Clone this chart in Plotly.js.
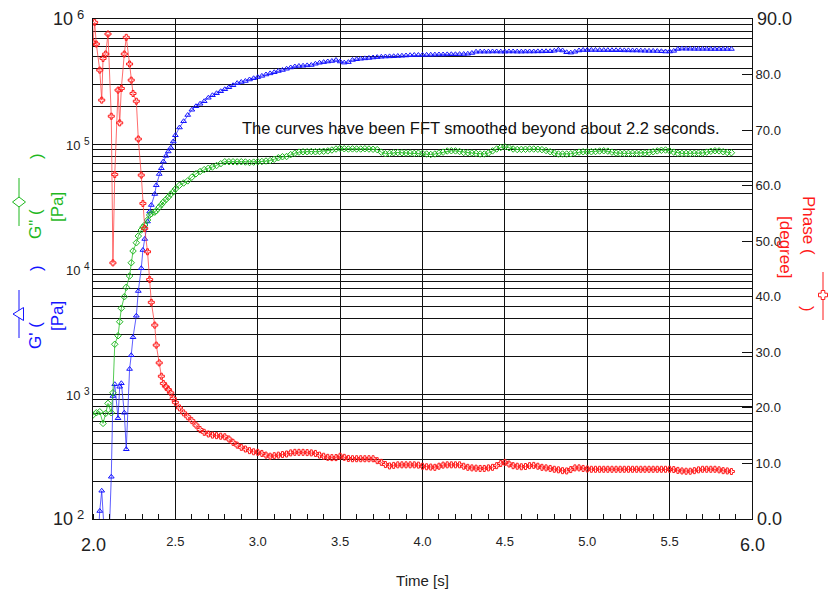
<!DOCTYPE html>
<html>
<head>
<meta charset="utf-8">
<script src="https://cdn.plot.ly/plotly-3.0.1.min.js"></script>
<style>
  html, body { margin: 0; padding: 0; background: #fff; }
  #chart { width: 830px; height: 593px; }
</style>
</head>
<body>
<div id="chart"></div>
<script>
// Time axis: irregular samples during the gelation onset, then a regular series after 2.5 s
const timeEarly = [2.000, 2.010, 2.020, 2.041, 2.053, 2.061, 2.077, 2.091, 2.111, 2.121,
  2.132, 2.152, 2.162, 2.172, 2.190, 2.202, 2.222, 2.232, 2.243, 2.263,
  2.275, 2.293, 2.303, 2.314, 2.331, 2.344, 2.354, 2.375, 2.384, 2.402,
  2.415, 2.427, 2.443, 2.457, 2.472, 2.487];

const timeLate = [2.500, 2.525, 2.550, 2.575, 2.600, 2.625, 2.650, 2.675, 2.700, 2.725,
  2.750, 2.775, 2.800, 2.825, 2.850, 2.875, 2.900, 2.925, 2.950, 2.975,
  3.000, 3.025, 3.050, 3.075, 3.100, 3.125, 3.150, 3.175, 3.200, 3.225,
  3.250, 3.275, 3.300, 3.325, 3.350, 3.375, 3.400, 3.425, 3.450, 3.475,
  3.500, 3.525, 3.550, 3.575, 3.600, 3.625, 3.650, 3.675, 3.700, 3.725,
  3.750, 3.775, 3.800, 3.825, 3.850, 3.875, 3.900, 3.925, 3.950, 3.975,
  4.000, 4.025, 4.050, 4.075, 4.100, 4.125, 4.150, 4.175, 4.200, 4.225,
  4.250, 4.275, 4.300, 4.325, 4.350, 4.375, 4.400, 4.425, 4.450, 4.475,
  4.500, 4.525, 4.550, 4.575, 4.600, 4.625, 4.650, 4.675, 4.700, 4.725,
  4.750, 4.775, 4.800, 4.825, 4.850, 4.875, 4.900, 4.925, 4.950, 4.975,
  5.000, 5.025, 5.050, 5.075, 5.100, 5.125, 5.150, 5.175, 5.200, 5.225,
  5.250, 5.275, 5.300, 5.325, 5.350, 5.375, 5.400, 5.425, 5.450, 5.475,
  5.500, 5.525, 5.550, 5.575, 5.600, 5.625, 5.650, 5.675, 5.700, 5.725,
  5.750, 5.775, 5.800, 5.825, 5.850, 5.875];

// Storage modulus G' as log10(Pa); null = no sample recorded
const storageLogEarly = [null, null, 1.6, 2.064, 2.226, null, 1.7, 1.6, 2.338, 2.984,
  3.078, 2.806, 3.058, 3.086, 2.850, 2.558, 3.200, 3.310, 3.454, 3.626,
  3.824, 4.006, 4.152, 4.240, 4.380, 4.460, 4.512, 4.600, 4.670, 4.760,
  4.806, 4.860, 4.905, 4.940, 4.970, 5.020];
const storageLogLate = [5.070, 5.132, 5.182, 5.232, 5.274, 5.302, 5.322, 5.342, 5.370, 5.390,
  5.406, 5.422, 5.438, 5.454, 5.470, 5.487, 5.496, 5.504, 5.516, 5.526,
  5.535, 5.545, 5.556, 5.565, 5.574, 5.584, 5.592, 5.602, 5.612, 5.620,
  5.624, 5.626, 5.629, 5.632, 5.642, 5.650, 5.655, 5.660, 5.664, 5.672,
  5.660, 5.651, 5.655, 5.672, 5.678, 5.682, 5.685, 5.688, 5.692, 5.695,
  5.698, 5.700, 5.701, 5.702, 5.704, 5.706, 5.708, 5.710, 5.712, 5.712,
  5.713, 5.713, 5.714, 5.715, 5.716, 5.716, 5.717, 5.718, 5.718, 5.719,
  5.720, 5.722, 5.728, 5.738, 5.739, 5.739, 5.739, 5.740, 5.740, 5.739,
  5.739, 5.740, 5.740, 5.739, 5.739, 5.740, 5.740, 5.740, 5.741, 5.741,
  5.742, 5.742, 5.746, 5.754, 5.748, 5.734, 5.731, 5.738, 5.748, 5.752,
  5.752, 5.752, 5.752, 5.751, 5.751, 5.751, 5.750, 5.750, 5.750, 5.749,
  5.749, 5.748, 5.748, 5.747, 5.746, 5.745, 5.745, 5.744, 5.742, 5.740,
  5.740, 5.745, 5.760, 5.763, 5.762, 5.762, 5.761, 5.761, 5.761, 5.761,
  5.760, 5.760, 5.760, 5.760, 5.760, 5.760];

// Loss modulus G" as log10(Pa)
const lossLogEarly = [2.832, null, 2.850, 2.858, null, 2.765, 2.845, 2.925, 2.850, 3.010,
  3.398, 3.466, 3.578, 3.686, 3.778, 3.854, 3.944, 4.050, 4.144, 4.210,
  4.264, 4.312, 4.335, 4.352, 4.392, 4.432, 4.442, 4.455, 4.466, 4.495,
  4.515, 4.535, 4.556, 4.575, 4.598, 4.618];
const lossLogLate = [4.640, 4.670, 4.688, 4.705, 4.735, 4.762, 4.780, 4.795, 4.806, 4.816,
  4.828, 4.842, 4.858, 4.858, 4.858, 4.857, 4.858, 4.856, 4.852, 4.855,
  4.858, 4.860, 4.864, 4.867, 4.878, 4.890, 4.898, 4.900, 4.915, 4.926,
  4.935, 4.938, 4.938, 4.940, 4.938, 4.940, 4.942, 4.945, 4.952, 4.960,
  4.965, 4.962, 4.960, 4.961, 4.960, 4.960, 4.962, 4.960, 4.958, 4.955,
  4.935, 4.922, 4.925, 4.930, 4.932, 4.930, 4.928, 4.928, 4.925, 4.927,
  4.925, 4.920, 4.916, 4.920, 4.928, 4.935, 4.944, 4.946, 4.945, 4.940,
  4.932, 4.930, 4.928, 4.925, 4.920, 4.920, 4.928, 4.945, 4.960, 4.972,
  4.978, 4.970, 4.960, 4.956, 4.957, 4.958, 4.960, 4.960, 4.958, 4.955,
  4.948, 4.938, 4.928, 4.920, 4.920, 4.920, 4.922, 4.928, 4.935, 4.938,
  4.938, 4.938, 4.940, 4.944, 4.946, 4.943, 4.935, 4.928, 4.925, 4.925,
  4.925, 4.926, 4.925, 4.926, 4.928, 4.932, 4.938, 4.945, 4.950, 4.952,
  4.945, 4.935, 4.926, 4.925, 4.925, 4.925, 4.926, 4.927, 4.928, 4.935,
  4.942, 4.946, 4.945, 4.938, 4.932, 4.930];

// Phase angle in degrees
const phaseEarly = [85.8, 89.4, 85.5, 80.8, 75.4, 82.9, 83.7, 87.3, 72.5, 46.1,
  62.0, 77.2, 71.3, 77.5, 83.7, 86.7, 81.9, 79.0, 76.6, 75.2,
  68.4, 61.9, 56.8, 52.3, 48.1, 43.1, 39.0, 34.9, 31.3, 28.1,
  25.7, 24.4, 23.8, 23.3, 22.7, 21.7];
const phaseLate = [21.0, 20.0, 19.1, 18.4, 17.7, 16.9, 16.1, 15.6, 15.3, 15.1,
  15.0, 14.9, 14.8, 14.4, 13.8, 13.3, 12.9, 12.6, 12.3, 12.1,
  12.0, 11.8, 11.5, 11.3, 11.4, 11.5, 11.6, 11.7, 11.9, 12.0,
  12.0, 12.0, 11.95, 11.9, 11.8, 11.5, 11.3, 11.1, 11.05, 11.05,
  11.3, 11.1, 10.9, 10.85, 10.85, 10.85, 10.85, 10.85, 10.85, 10.5,
  10.2, 9.8, 9.55, 9.65, 9.75, 9.75, 9.75, 9.75, 9.75, 9.7,
  9.5, 9.4, 9.35, 9.3, 9.5, 9.7, 9.75, 9.75, 9.75, 9.75,
  9.5, 9.3, 9.2, 9.15, 9.1, 9.1, 9.2, 9.3, 9.6, 10.0,
  10.2, 9.9, 9.6, 9.5, 9.4, 9.45, 9.6, 9.65, 9.5, 9.3,
  9.2, 9.1, 8.95, 8.85, 8.7, 8.65, 8.9, 9.2, 9.2, 9.1,
  9.0, 8.95, 8.95, 8.95, 8.95, 8.95, 8.95, 8.95, 8.95, 8.95,
  8.95, 8.95, 8.95, 8.95, 8.95, 8.95, 8.95, 8.95, 8.95, 8.95,
  8.95, 8.9, 8.75, 8.65, 8.6, 8.6, 8.7, 8.85, 8.95, 8.95,
  8.95, 8.95, 8.85, 8.7, 8.65, 8.55];

// Axis ticks: inner ticks come from the axes, the end values are drawn larger
const timeTicks = [2.5, 3.0, 3.5, 4.0, 4.5, 5.0, 5.5];
const timeTickLabels = ['2.5', '3.0', '3.5', '4.0', '4.5', '5.0', '5.5'];
const timeEnds = [2.0, 6.0];
const timeEndLabels = ['2.0', '6.0'];
const modulusDecades = [2, 3, 4, 5, 6];            // 10^2 ... 10^6 Pa
const phaseTicks = [0, 10, 20, 30, 40, 50, 60, 70, 80, 90];
const phaseTickLabels = ['', '10.0', '20.0', '30.0', '40.0', '50.0', '60.0', '70.0', '80.0', ''];
const phaseEnds = [0, 90];
const phaseEndLabels = ['0.0', '90.0'];

const time = timeEarly.concat(timeLate);
const toPa = v => (v === null ? null : Math.pow(10, v));
const storage = storageLogEarly.concat(storageLogLate).map(toPa);
const loss = lossLogEarly.concat(lossLogLate).map(toPa);
const phase = phaseEarly.concat(phaseLate);

const FONT = 'Liberation Sans, Arial, Helvetica, sans-serif';
const BLUE = '#1414ff', GREEN = '#1fb81f', RED = '#ff1a1a';
const INK = '#222';

// minor log grid: digits 2..9 of every decade
const minorLog = [];
modulusDecades.slice(0, -1).forEach(d => [2, 3, 4, 5, 6, 7, 8, 9].forEach(k => minorLog.push(k * Math.pow(10, d))));

const traces = [
  {
    x: time, y: storage, yaxis: 'y', mode: 'lines+markers', connectgaps: true,
    line: { color: 'rgba(40,40,255,0.75)', width: 1 },
    marker: { symbol: 'triangle-up-open', size: 5, color: BLUE, line: { width: 1 } },
    showlegend: false, hoverinfo: 'x+y'
  },
  {
    x: time, y: loss, yaxis: 'y', mode: 'lines+markers', connectgaps: true,
    line: { color: 'rgba(40,190,40,0.8)', width: 1 },
    marker: { symbol: 'diamond-open', size: 5, color: GREEN, line: { width: 1 } },
    showlegend: false, hoverinfo: 'x+y'
  },
  {
    x: time, y: phase, yaxis: 'y2', mode: 'lines+markers',
    line: { color: 'rgba(255,60,60,0.75)', width: 1 },
    marker: { symbol: 'cross-open', size: 5, color: RED, line: { width: 1 } },
    showlegend: false, hoverinfo: 'x+y'
  }
];

// pixel -> paper helpers for decorations outside the plot area
const L = 93, R = 752, T = 19, B = 519;
const px = x => (x - L) / (R - L);
const py = y => (B - y) / (B - T);

function rotText(text, x, y, color, angle, size) {
  return {
    xref: 'paper', yref: 'paper', x: px(x), y: py(y), text: text, showarrow: false,
    textangle: angle, xanchor: 'center', yanchor: 'middle',
    font: { family: FONT, size: size || 17, color: color }
  };
}

const annotations = [
  rotText('G" (', 35, 224, GREEN, -90),
  rotText(')', 36, 156, GREEN, -90),
  rotText('[Pa]', 57, 207, GREEN, -90),
  rotText("G' (", 35, 336, BLUE, -90),
  rotText(')', 36, 268, BLUE, -90),
  rotText('[Pa]', 57, 316, BLUE, -90),
  rotText('Phase (', 809, 226, RED, 90),
  rotText(')', 808, 309, RED, 90),
  rotText('[degree]', 785, 247, RED, 90),
  {
    xref: 'paper', yref: 'paper', x: px(240), y: py(128), xanchor: 'left', yanchor: 'middle',
    text: 'The curves have been FFT smoothed beyond about 2.2 seconds.', showarrow: false,
    font: { family: FONT, size: 16.5, color: '#111' }
  }
];

// larger end labels of the time and phase axes, placed on their axis values
timeEnds.forEach((v, i) => annotations.push({
  xref: 'x', yref: 'paper', x: v, y: py(545), xanchor: 'center', yanchor: 'middle',
  text: timeEndLabels[i], showarrow: false, font: { family: FONT, size: 18, color: INK }
}));
phaseEnds.forEach((v, i) => annotations.push({
  xref: 'paper', yref: 'y2', x: px(755), y: v, xanchor: 'left', yanchor: 'middle',
  text: phaseEndLabels[i], showarrow: false, font: { family: FONT, size: 18, color: INK }
}));

// decade labels of the modulus axis: base "10" with a raised exponent
modulusDecades.forEach((d, i) => {
  const big = i === 0 || i === modulusDecades.length - 1;
  const split = big ? 75 : 82;
  annotations.push({
    xref: 'paper', yref: 'y', x: px(split), y: d, xanchor: 'right', yanchor: 'middle',
    yshift: big ? 0 : -1.5, text: '10', showarrow: false,
    font: { family: FONT, size: big ? 18 : 13, color: INK }
  });
  annotations.push({
    xref: 'paper', yref: 'y', x: px(split), y: d, xanchor: 'left', yanchor: 'middle',
    yshift: big ? 5 : 2.5, text: String(d), showarrow: false,
    font: { family: FONT, size: big ? 13 : 10, color: INK }
  });
});

function pathOf(pts) {
  return 'M' + pts.map(p => px(p[0]) + ',' + py(p[1])).join(' L') + ' Z';
}
const crossPts = (cx, cy, a, w) => [
  [cx - w, cy - a], [cx + w, cy - a], [cx + w, cy - w], [cx + a, cy - w], [cx + a, cy + w],
  [cx + w, cy + w], [cx + w, cy + a], [cx - w, cy + a], [cx - w, cy + w], [cx - a, cy + w],
  [cx - a, cy - w], [cx - w, cy - w]
];

const shapes = [
  { type: 'line', xref: 'paper', yref: 'paper', x0: px(19), x1: px(19), y0: py(178), y1: py(226), line: { color: GREEN, width: 1 } },
  { type: 'path', xref: 'paper', yref: 'paper', path: pathOf([[12.5, 202], [19, 197], [25.5, 202], [19, 207]]), line: { color: GREEN, width: 1 }, fillcolor: 'white' },
  { type: 'line', xref: 'paper', yref: 'paper', x0: px(19), x1: px(19), y0: py(290), y1: py(338), line: { color: BLUE, width: 1 } },
  { type: 'path', xref: 'paper', yref: 'paper', path: pathOf([[13, 314], [23.5, 307.5], [23.5, 320.5]]), line: { color: BLUE, width: 1 }, fillcolor: 'white' },
  { type: 'line', xref: 'paper', yref: 'paper', x0: px(823), x1: px(823), y0: py(272), y1: py(320), line: { color: RED, width: 1 } },
  { type: 'path', xref: 'paper', yref: 'paper', path: pathOf(crossPts(823, 295, 4.5, 1.8)), line: { color: RED, width: 1 }, fillcolor: 'white' }
];

const layout = {
  width: 830, height: 593,
  margin: { l: L, r: 830 - R, t: T, b: 593 - B },
  paper_bgcolor: '#fff', plot_bgcolor: '#fff',
  font: { family: FONT, size: 13, color: INK },
  showlegend: false,
  xaxis: {
    range: [2, 6], tickmode: 'array', tickvals: timeTicks, ticktext: timeTickLabels,
    showgrid: true, gridcolor: '#111', gridwidth: 1,
    showline: true, linecolor: '#111', linewidth: 1, mirror: true,
    ticks: '', zeroline: false, ticklabelstandoff: 10,
    tickfont: { family: FONT, size: 13, color: INK },
    minor: { dtick: 0.1, tick0: 2, ticks: 'inside', ticklen: 5, tickcolor: '#111', tickwidth: 1, showgrid: false },
    title: { text: 'Time [s]', font: { family: FONT, size: 15, color: INK }, standoff: 27 }
  },
  yaxis: {
    type: 'log', range: [2, 6], tickmode: 'array',
    tickvals: modulusDecades.map(d => Math.pow(10, d)), showticklabels: false,
    showgrid: true, gridcolor: '#111', gridwidth: 1,
    showline: true, linecolor: '#111', linewidth: 1,
    ticks: '', zeroline: false,
    minor: { tickmode: 'array', tickvals: minorLog, showgrid: true, gridcolor: '#111', gridwidth: 1, ticks: '' }
  },
  yaxis2: {
    overlaying: 'y', side: 'right', range: [0, 90], tickmode: 'array',
    tickvals: phaseTicks, ticktext: phaseTickLabels,
    showgrid: false, showline: true, linecolor: '#111', linewidth: 1,
    ticks: 'inside', ticklen: 10, tickcolor: '#111', tickwidth: 1, zeroline: false,
    tickfont: { family: FONT, size: 13, color: INK }
  },
  annotations: annotations,
  shapes: shapes
};

Plotly.newPlot('chart', traces, layout, { displayModeBar: false, staticPlot: true });
</script>
</body>
</html>
